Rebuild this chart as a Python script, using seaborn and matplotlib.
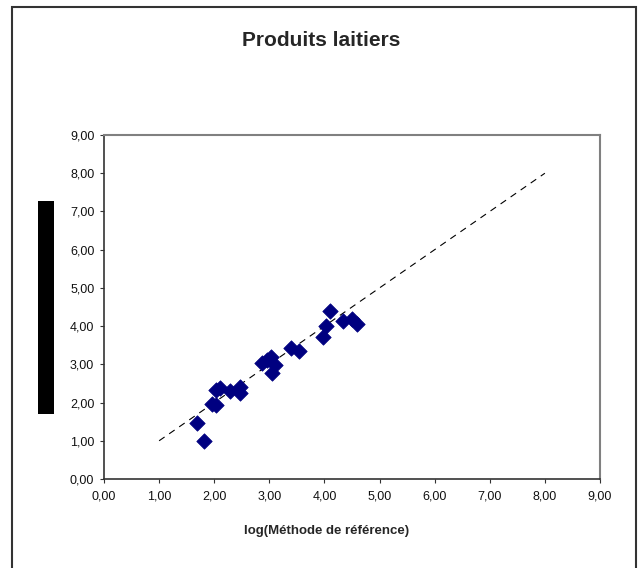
import matplotlib
matplotlib.use("Agg")
import matplotlib.pyplot as plt
from matplotlib.patches import Rectangle
from matplotlib.ticker import FuncFormatter
import seaborn as sns
import pandas as pd

# Measured values (log scale) for dairy products
x_ref = [1.69, 1.81, 1.96, 2.03, 2.03, 2.10, 2.29, 2.46, 2.47, 2.86, 2.95,
         3.03, 3.10, 3.04, 3.39, 3.53, 3.97, 4.02, 4.10, 4.34, 4.50, 4.59]
y_alt = [1.47, 1.00, 1.97, 1.93, 2.33, 2.37, 2.31, 2.40, 2.24, 3.04, 3.12,
         3.20, 2.98, 2.77, 3.42, 3.36, 3.72, 3.99, 4.40, 4.13, 4.19, 4.05]

# Identity reference line
line_x = [1.0, 8.0]
line_y = [1.0, 8.0]

ticks = [0, 1, 2, 3, 4, 5, 6, 7, 8, 9]

title = "Produits laitiers"
xlabel = "log(Méthode de référence)"

sns.set_theme(style="white")
plt.rcParams["font.family"] = ["Liberation Sans", "DejaVu Sans"]

W, H = 643, 568
fig = plt.figure(figsize=(W / 100, H / 100), dpi=100)
ax = fig.add_axes([104 / W, 1 - 479 / H, (600 - 104) / W, (479 - 135) / H])

df = pd.DataFrame({"x": x_ref, "y": y_alt})
sns.lineplot(x=line_x, y=line_y, ax=ax, color="black", linewidth=0.8,
             linestyle=(0, (6, 5)))
sns.scatterplot(data=df, x="x", y="y", ax=ax, marker="D", s=62,
                color="#000080", edgecolor="#000080", linewidth=0.5, zorder=3)

ax.set_xlim(0, 9)
ax.set_ylim(0, 9)
ax.set_xticks(ticks)
ax.set_yticks(ticks)
fmt = FuncFormatter(lambda v, p: f"{v:.2f}".replace(".", ","))
ax.xaxis.set_major_formatter(fmt)
ax.yaxis.set_major_formatter(fmt)
ax.tick_params(axis="both", direction="out", length=3, width=0.8,
               color="#333333", labelsize=9, labelcolor="#111111")
ax.tick_params(axis="x", pad=5)
ax.tick_params(axis="y", pad=4)
ax.xaxis.set_ticks_position("bottom")
ax.yaxis.set_ticks_position("left")
ax.set_xlabel("")
ax.set_ylabel("")

for side in ("left", "bottom"):
    ax.spines[side].set_color("#333333")
    ax.spines[side].set_linewidth(1.2)
for side in ("top", "right"):
    ax.spines[side].set_color("#808080")
    ax.spines[side].set_linewidth(1.5)

fig.text(321 / W, 1 - 40 / H, title, ha="center", va="center",
         fontsize=15, fontweight="bold")
fig.text(327 / W, 1 - 531 / H, xlabel, ha="center", va="center",
         fontsize=9.5, fontweight="bold")

# Vertical axis caption block
fig.patches.append(Rectangle((38 / W, 1 - 414 / H), 16 / W, 213 / H,
                             transform=fig.transFigure, facecolor="black",
                             edgecolor="none"))
# Chart area frame
fig.patches.append(Rectangle((12 / W, -0.05), (636 - 12) / W, 1.05 - 7 / H,
                             transform=fig.transFigure, facecolor="none",
                             edgecolor="#333333", linewidth=1.5))

fig.savefig("out.png", dpi=100)
